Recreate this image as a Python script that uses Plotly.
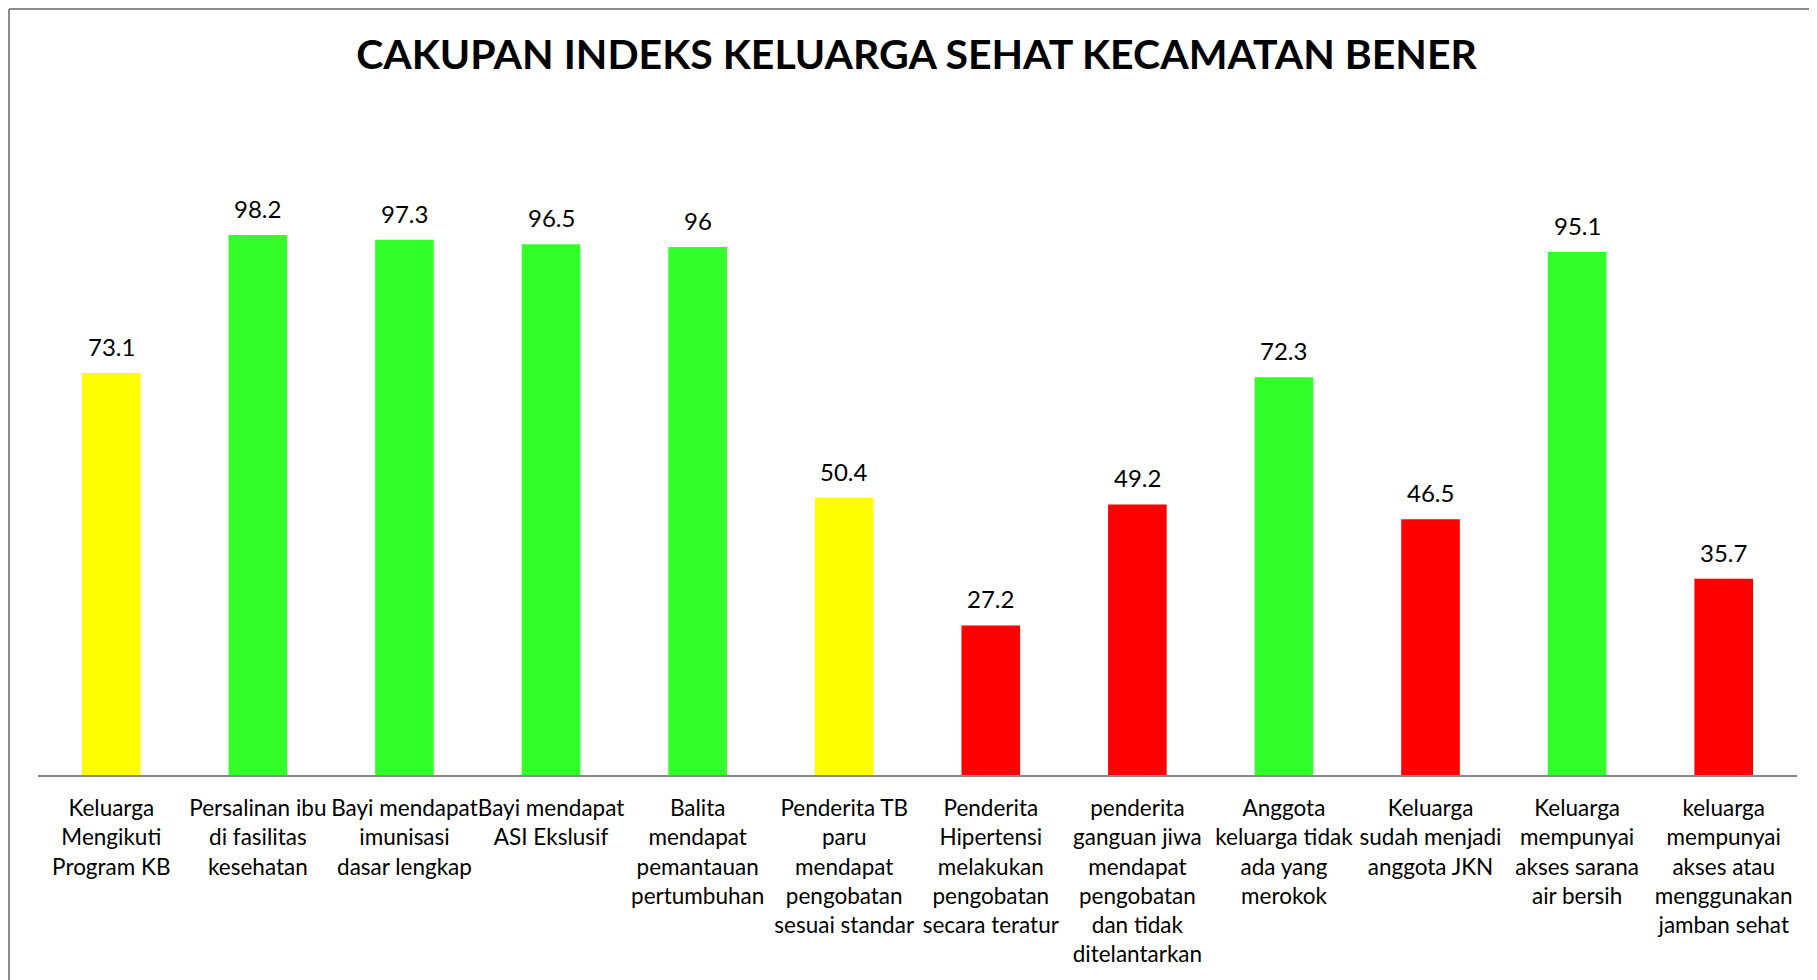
import plotly.graph_objects as go

title_text = "CAKUPAN INDEKS KELUARGA SEHAT KECAMATAN BENER"

categories = [
    "Keluarga<br>Mengikuti<br>Program KB",
    "Persalinan ibu<br>di fasilitas<br>kesehatan",
    "Bayi mendapat<br>imunisasi<br>dasar lengkap",
    "Bayi mendapat<br>ASI Ekslusif",
    "Balita<br>mendapat<br>pemantauan<br>pertumbuhan",
    "Penderita TB<br>paru<br>mendapat<br>pengobatan<br>sesuai standar",
    "Penderita<br>Hipertensi<br>melakukan<br>pengobatan<br>secara teratur",
    "penderita<br>ganguan jiwa<br>mendapat<br>pengobatan<br>dan tidak<br>ditelantarkan",
    "Anggota<br>keluarga tidak<br>ada yang<br>merokok",
    "Keluarga<br>sudah menjadi<br>anggota JKN",
    "Keluarga<br>mempunyai<br>akses sarana<br>air bersih",
    "keluarga<br>mempunyai<br>akses atau<br>menggunakan<br>jamban sehat",
]
values = [73.1, 98.2, 97.3, 96.5, 96, 50.4, 27.2, 49.2, 72.3, 46.5, 95.1, 35.7]
status = ["yellow", "green", "green", "green", "green", "yellow", "red", "red", "green", "red", "green", "red"]

palette = {"yellow": "#FFFF00", "green": "#33FF2B", "red": "#FF0000"}
colors = [palette[s] for s in status]

FONT = "Lato"
ML, MT, MB, MR = 30, 162, 213, 28
PLOT_H = 980 - MT - MB
PLOT_W = 1817 - ML - MR

fig = go.Figure()
fig.add_trace(go.Bar(
    x=categories,
    y=values,
    marker=dict(color=colors, line=dict(width=0)),
    hoverinfo="x+y",
))

for c, v in zip(categories, values):
    fig.add_annotation(
        x=c, y=v, text=f"{v:g}", showarrow=False,
        yanchor="bottom", yshift=10,
        font=dict(family=FONT, size=24, color="#000000"),
    )

bx = (1 - ML) / PLOT_W
by = 1 + (MT - 1) / PLOT_H

fig.update_layout(
    width=1817, height=980,
    paper_bgcolor="white", plot_bgcolor="white",
    margin=dict(l=ML, r=MR, t=MT, b=MB),
    bargap=0.6,
    showlegend=False,
    title=dict(
        text=title_text,
        x=0.5, xanchor="center",
        y=1 - 47 / 980, yanchor="middle",
        font=dict(family=FONT, size=41, color="#000000", weight="bold"),
    ),
    xaxis=dict(
        showline=True, linecolor="#898989", linewidth=2,
        showgrid=False, zeroline=False, ticks="",
        tickangle=0,
        tickfont=dict(family=FONT, size=22.5, color="#000000"),
        ticklabelstandoff=12,
    ),
    yaxis=dict(
        range=[0, 110], visible=False, showgrid=False, zeroline=False,
    ),
    shapes=[
        dict(type="line", xref="paper", yref="paper", x0=bx, x1=1.2, y0=by, y1=by,
             line=dict(color="#8C8C8C", width=2)),
        dict(type="line", xref="paper", yref="paper", x0=bx, x1=bx, y0=by, y1=-0.5,
             line=dict(color="#8C8C8C", width=2)),
    ],
)

fig.write_html("out.html")
